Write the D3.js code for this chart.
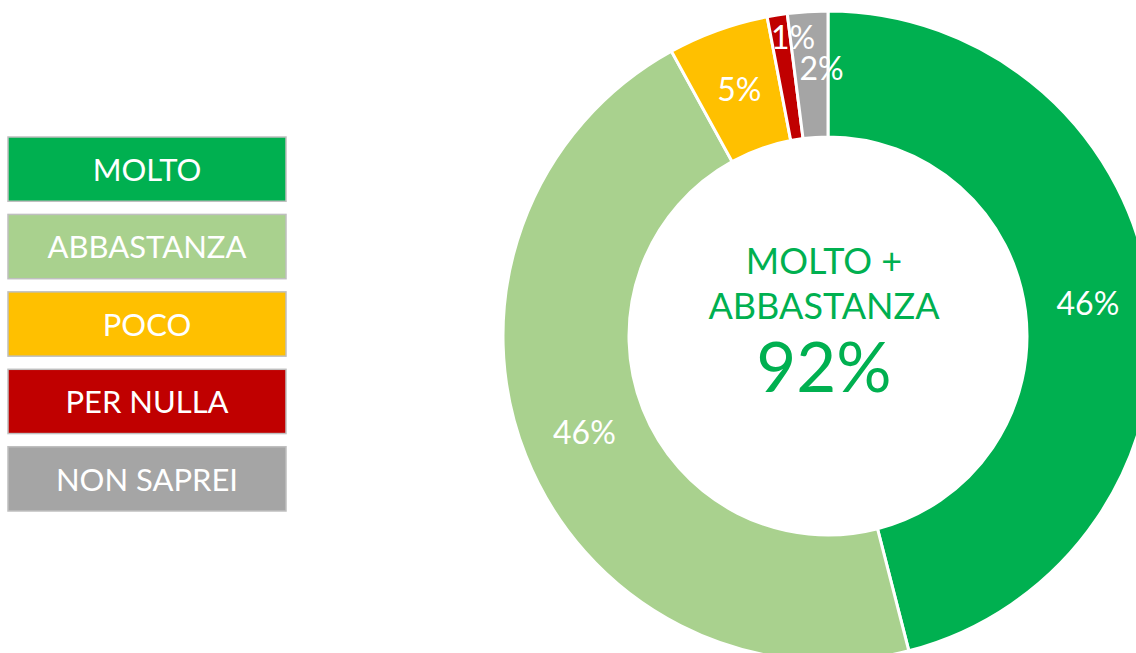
<!DOCTYPE html>
<html>
<head>
<meta charset="utf-8">
<script src="https://cdn.jsdelivr.net/npm/d3@7"></script>
<style>
  body { margin: 0; background: #fff; }
  svg { display: block; font-family: Lato, "Open Sans", sans-serif; }
</style>
</head>
<body>
<div id="chart"></div>
<script>
const categories = ["MOLTO", "ABBASTANZA", "POCO", "PER NULLA", "NON SAPREI"];
const values = [46, 46, 5, 1, 2];
const colors = ["#00B050", "#A9D18E", "#FFC000", "#C00000", "#A5A5A5"];
const centerLines = ["MOLTO +", "ABBASTANZA"];
const centerValue = "92%";

const width = 1136, height = 653;
const cx = 828, cy = 336;
const outerR = 325, innerR = 199;

// small slices get their labels nudged, like the original
const labelShift = { "PER NULLA": [6, -40], "NON SAPREI": [10, -6] };

const svg = d3.select("#chart")
  .append("svg")
  .attr("width", width)
  .attr("height", height);

// legend boxes
const legendY = d3.scaleBand()
  .domain(categories)
  .range([137, 511])
  .paddingInner(0.17);

const legend = svg.append("g")
  .selectAll("g")
  .data(categories)
  .enter().append("g")
  .attr("transform", d => "translate(8," + legendY(d) + ")");

legend.append("rect")
  .attr("width", 278)
  .attr("height", legendY.bandwidth())
  .attr("fill", (d, i) => colors[i])
  .attr("stroke", "#bfbfbf")
  .attr("stroke-width", 1.5);

legend.append("text")
  .attr("x", 139)
  .attr("y", legendY.bandwidth() / 2)
  .attr("dy", "0.38em")
  .attr("text-anchor", "middle")
  .attr("fill", "#fff")
  .style("font-size", "31px")
  .text(d => d);

// donut
const pie = d3.pie().sort(null).value(d => d.value);
const data = pie(categories.map((c, i) => ({ cat: c, value: values[i], color: colors[i] })));

const arc = d3.arc().innerRadius(innerR).outerRadius(outerR);
const labelArc = d3.arc().innerRadius((innerR + outerR) / 2).outerRadius((innerR + outerR) / 2);

const g = svg.append("g").attr("transform", "translate(" + cx + "," + cy + ")");

g.selectAll("path")
  .data(data)
  .enter().append("path")
  .attr("d", arc)
  .attr("fill", d => d.data.color)
  .attr("stroke", "#fff")
  .attr("stroke-width", 3);

g.selectAll(".lbl")
  .data(data)
  .enter().append("text")
  .attr("class", "lbl")
  .attr("transform", d => {
    const p = labelArc.centroid(d);
    const s = labelShift[d.data.cat] || [0, 0];
    return "translate(" + (p[0] + s[0]) + "," + (p[1] + s[1]) + ")";
  })
  .attr("dy", "0.36em")
  .attr("text-anchor", "middle")
  .attr("fill", "#fff")
  .style("font-size", "32px")
  .text(d => d.data.value + "%");

// center text
g.selectAll(".ctr")
  .data(centerLines)
  .enter().append("text")
  .attr("class", "ctr")
  .attr("x", -4)
  .attr("y", (d, i) => -62 + i * 45)
  .attr("text-anchor", "middle")
  .attr("fill", "#00B050")
  .style("font-size", "36px")
  .text(d => d);

g.append("text")
  .attr("x", -4)
  .attr("y", 56)
  .attr("text-anchor", "middle")
  .attr("fill", "#00B050")
  .style("font-size", "69px")
  .text(centerValue);
</script>
</body>
</html>
